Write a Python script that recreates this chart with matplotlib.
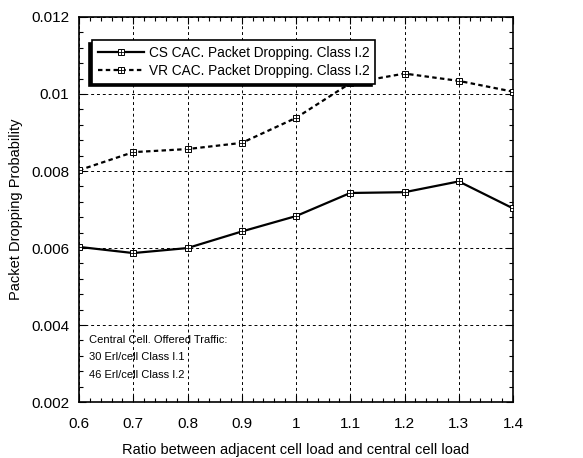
import matplotlib
matplotlib.use("Agg")
import matplotlib.pyplot as plt
from matplotlib.ticker import MultipleLocator, AutoMinorLocator, FuncFormatter
from matplotlib.lines import Line2D

plt.rcParams['font.family'] = ['Liberation Sans', 'DejaVu Sans']

# données
ratio = [0.6, 0.7, 0.8, 0.9, 1.0, 1.1, 1.2, 1.3, 1.4]
cs_drop = [0.00603, 0.00587, 0.00600, 0.00643, 0.00683, 0.00743, 0.00745, 0.00773, 0.00703]
vr_drop = [0.00802, 0.00849, 0.00857, 0.00873, 0.00938, 0.01028, 0.01053, 0.01034, 0.01006]
xlabels = ["0.6", "0.7", "0.8", "0.9", "1", "1.1", "1.2", "1.3", "1.4"]

lab_cs = "CS CAC. Packet Dropping. Class I.2"
lab_vr = "VR CAC. Packet Dropping. Class I.2"

fig = plt.figure(figsize=(5.83, 4.58), dpi=100)
ax = fig.add_axes([0.1355, 0.122, 0.7445, 0.841])

dash = (0, (2, 1.5))
ax.plot(ratio, cs_drop, 'k-', lw=1.6, zorder=3)
ax.plot(ratio, vr_drop, 'k', ls=dash, lw=1.6, zorder=3)
### marqueurs : carré avec une croix dedans
for serie in (cs_drop, vr_drop):
    ax.plot(ratio, serie, ls='none', marker='s', ms=5, mfc='white', mec='k', mew=0.7, zorder=4)
    ax.plot(ratio, serie, ls='none', marker='+', ms=5, mec='k', mew=0.6, zorder=5)

ax.set_xlim(0.6, 1.4)
ax.set_ylim(0.002, 0.012)
ax.set_xticks(ratio)
ax.set_xticklabels(xlabels)
ax.yaxis.set_major_locator(MultipleLocator(0.002))
ax.xaxis.set_minor_locator(AutoMinorLocator(5))
ax.yaxis.set_minor_locator(AutoMinorLocator(5))
ax.yaxis.set_major_formatter(FuncFormatter(lambda v, p: "0.01" if abs(v - 0.01) < 1e-9 else "%.3f" % v))

ax.tick_params(which='both', direction='in', top=True, right=True, labelsize=11)
ax.tick_params(which='major', length=5, width=0.8)
ax.tick_params(which='minor', length=3, width=0.8)
ax.tick_params(axis='x', pad=11)
ax.tick_params(axis='y', pad=7)
for s in ax.spines.values():
    s.set_linewidth(1.2)

ax.grid(True, which='major', color='k', ls=(0, (3, 3)), lw=0.7)

ax.set_xlabel("Ratio between adjacent cell load and central cell load", fontsize=10.5, labelpad=8)
ax.set_ylabel("Packet Dropping Probability", fontsize=10.5, labelpad=6)

def handle(ls):
    return (Line2D([], [], color='k', lw=1.6, ls=ls),
            Line2D([], [], ls='none', marker='s', ms=5, mfc='white', mec='k', mew=0.7),
            Line2D([], [], ls='none', marker='+', ms=5, mec='k', mew=0.6))

leg = ax.legend([handle('-'), handle(dash)], [lab_cs, lab_vr],
                loc='upper left', bbox_to_anchor=(0.03, 0.94), fontsize=9.8, frameon=True,
                fancybox=False, shadow={'ox': -2, 'oy': -2, 'color': 'k', 'alpha': 1},
                edgecolor='k', framealpha=1, handlelength=3.4,
                borderpad=0.45, labelspacing=0.25, handletextpad=0.3, borderaxespad=0)
leg.get_frame().set_linewidth(1.2)

ax.text(0.022, 0.175, "Central Cell. Offered Traffic:\n30 Erl/cell Class I.1\n46 Erl/cell Class I.2",
        transform=ax.transAxes, fontsize=8, va='top', ha='left', linespacing=1.95)

fig.savefig("out.png", dpi=100)
